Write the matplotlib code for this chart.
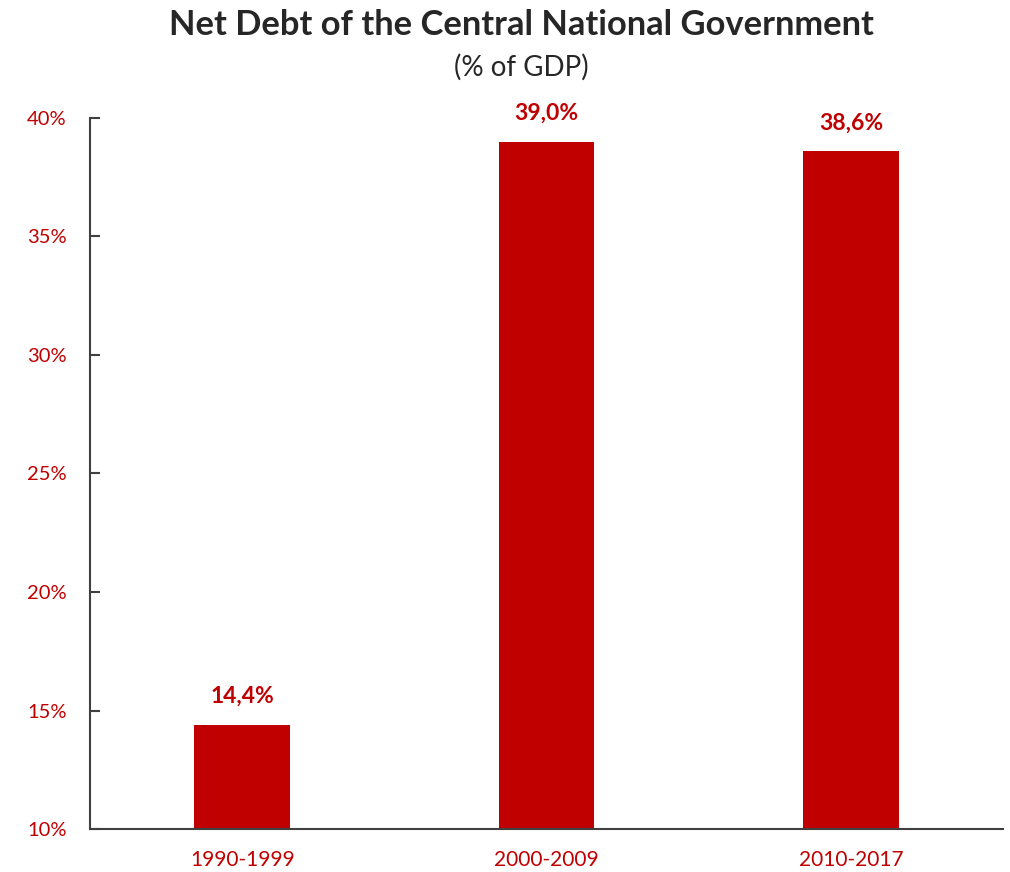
import matplotlib
matplotlib.use("Agg")
import matplotlib.pyplot as plt
from matplotlib.ticker import FuncFormatter

plt.rcParams["font.family"] = ["Lato", "DejaVu Sans"]

periods = ["1990-1999", "2000-2009", "2010-2017"]
net_debt = [14.4, 39.0, 38.6]
y_ticks = [10, 15, 20, 25, 30, 35, 40]

RED = "#C00000"
AXIS = "#404040"

fig = plt.figure(figsize=(10.10, 8.72), dpi=100)
ax = fig.add_axes([0.0891, 0.0493, 0.9040, 0.8154])

x = range(len(periods))
ax.bar(x, net_debt, width=0.315, color=RED)
ax.set_xlim(-0.5, len(periods) - 0.5)
ax.set_ylim(10, 40)
ax.set_yticks(y_ticks)
ax.yaxis.set_major_formatter(FuncFormatter(lambda v, _: f"{v:.0f}%"))
ax.set_xticks(list(x))
ax.set_xticklabels(periods)

for s in ("top", "right"):
    ax.spines[s].set_visible(False)
for s in ("left", "bottom"):
    ax.spines[s].set_color(AXIS)
    ax.spines[s].set_linewidth(1.5)

ax.tick_params(axis="y", direction="in", length=7, width=1.5, color=AXIS,
               labelcolor=RED, labelsize=14.5, pad=17)
ax.tick_params(axis="x", length=0, labelcolor=RED, labelsize=15, pad=15)

for xi, v in zip(x, net_debt):
    ax.text(xi, v + 0.75, f"{v:.1f}%".replace(".", ","), ha="center", va="bottom",
            color=RED, fontsize=16.5, fontweight="bold")

fig.text(0.516, 0.971, "Net Debt of the Central National Government", ha="center",
         va="center", fontsize=24.8, fontweight="bold", color="#262626")
fig.text(0.516, 0.923, "(% of GDP)", ha="center", va="center", fontsize=20,
         color="#262626")

fig.savefig("out.png", dpi=100)
